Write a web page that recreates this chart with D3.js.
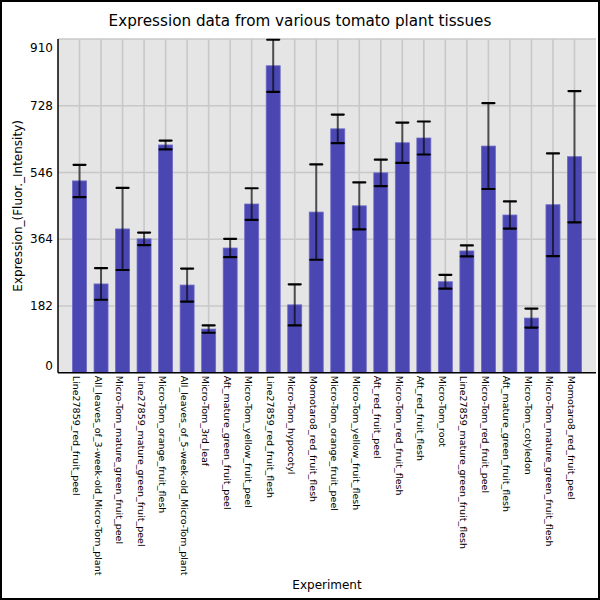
<!DOCTYPE html>
<html>
<head>
<meta charset="utf-8">
<script src="https://cdn.jsdelivr.net/npm/d3@7"></script>
<style>
  body { margin: 0; background: #fff; }
  text { font-family: "DejaVu Sans", sans-serif; fill: #000; }
</style>
</head>
<body>
<svg id="chart" width="600" height="600"></svg>
<script>
// tissues, in plotted order
var tissues = [
  "Line27859_red_fruit_peel",
  "All_leaves_of_3-week-old_Micro-Tom_plant",
  "Micro-Tom_mature_green_fruit_peel",
  "Line27859_mature_green_fruit_peel",
  "Micro-Tom_orange_fruit_flesh",
  "All_leaves_of_5-week-old_Micro-Tom_plant",
  "Micro-Tom_3rd_leaf",
  "Aft_mature_green_fruit_peel",
  "Micro-Tom_yellow_fruit_peel",
  "Line27859_red_fruit_flesh",
  "Micro-Tom_hypocotyl",
  "Momotaro8_red_fruit_flesh",
  "Micro-Tom_orange_fruit_peel",
  "Micro-Tom_yellow_fruit_flesh",
  "Aft_red_fruit_peel",
  "Micro-Tom_red_fruit_flesh",
  "Aft_red_fruit_flesh",
  "Micro-Tom_root",
  "Line27859_mature_green_fruit_flesh",
  "Micro-Tom_red_fruit_peel",
  "Aft_mature_green_fruit_flesh",
  "Micro-Tom_cotyledon",
  "Micro-Tom_mature_green_fruit_flesh",
  "Momotaro8_red_fruit_peel"
];
var expression = [523, 242, 392, 365, 621, 239, 119, 340, 460, 837, 185, 438,
                  665, 455, 545, 627, 640, 248, 332, 618, 430, 149, 458, 589];
var errors = [44, 43, 112, 17, 12, 45, 10, 25, 43, 71, 56, 130,
              39, 64, 36, 55, 45, 19, 15, 117, 37, 26, 140, 179];
var yTicks = [0, 182, 364, 546, 728, 910];

var svg = d3.select("#chart"),
    margin = {top: 39, left: 58, bottom: 227, right: 4},
    width = +svg.attr("width"),
    height = +svg.attr("height");

var data = tissues.map((t, i) => ({name: t, value: expression[i], err: errors[i]}));

// frame round the whole picture
svg.append("rect")
   .attr("x", 1).attr("y", 1)
   .attr("width", width - 2).attr("height", height - 2)
   .attr("fill", "#fff").attr("stroke", "#000").attr("stroke-width", 2);

var x = d3.scalePoint()
          .domain(tissues)
          .range([margin.left, width - margin.right])
          .padding(1);
var barW = x.step() * 0.65;

var y = d3.scaleLinear()
          .domain([0, 910])
          .range([height - margin.bottom - 0.3, margin.top]);

// plot background
svg.append("rect")
   .attr("x", margin.left).attr("y", margin.top)
   .attr("width", width - margin.right - margin.left)
   .attr("height", y(0) - margin.top)
   .attr("fill", "#e5e5e5");

// grid
svg.append("g").selectAll("line")
   .data(yTicks.slice(1)).enter().append("line")
   .attr("x1", margin.left).attr("x2", width - margin.right)
   .attr("y1", d => y(d)).attr("y2", d => y(d))
   .attr("stroke", "#c8c8c8").attr("stroke-width", 1.6);
svg.append("g").selectAll("line")
   .data(tissues).enter().append("line")
   .attr("x1", d => x(d)).attr("x2", d => x(d))
   .attr("y1", margin.top).attr("y2", y(0))
   .attr("stroke", "#c8c8c8").attr("stroke-width", 1.6);

// bars
svg.append("g").selectAll("rect")
   .data(data).enter().append("rect")
   .attr("x", d => x(d.name) - barW / 2)
   .attr("width", barW)
   .attr("y", d => y(d.value))
   .attr("height", d => y(0) - y(d.value))
   .attr("fill", "#4a47b3")
   .attr("stroke", "#6d6ac6").attr("stroke-width", 0.8);

// error bars
var eb = svg.append("g").selectAll("g")
   .data(data).enter().append("g");
eb.append("line")
  .attr("x1", d => x(d.name)).attr("x2", d => x(d.name))
  .attr("y1", d => y(d.value + d.err)).attr("y2", d => y(d.value - d.err))
  .attr("stroke", "#000").attr("stroke-opacity", 0.62).attr("stroke-width", 2);
eb.selectAll(".cap")
  .data(d => [d.value + d.err, d.value - d.err].map(v => ({name: d.name, v: v})))
  .enter().append("line")
  .attr("class", "cap")
  .attr("x1", d => x(d.name) - 6).attr("x2", d => x(d.name) + 6)
  .attr("y1", d => y(d.v)).attr("y2", d => y(d.v))
  .attr("stroke", "#000").attr("stroke-width", 2.2).attr("stroke-linecap", "round");

// axes lines
svg.append("line")
   .attr("x1", margin.left).attr("x2", margin.left)
   .attr("y1", margin.top).attr("y2", y(0))
   .attr("stroke", "#000").attr("stroke-width", 1.5);
svg.append("line")
   .attr("x1", margin.left).attr("x2", width - margin.right)
   .attr("y1", y(0)).attr("y2", y(0))
   .attr("stroke", "#000").attr("stroke-width", 1.5);

// y tick labels, end ones pulled inside the plot
svg.append("g").selectAll("text")
   .data(yTicks).enter().append("text")
   .attr("x", margin.left - 5)
   .attr("y", d => y(d) + (d === 0 ? -7 : d === 910 ? 9 : 0))
   .attr("dy", "0.35em")
   .attr("text-anchor", "end")
   .attr("font-size", 12)
   .text(d => d);

// x labels, rotated
svg.append("g").selectAll("text")
   .data(tissues).enter().append("text")
   .attr("transform", d => `translate(${x(d) - 6.5},${y(0) + 3}) rotate(90)`)
   .attr("font-size", 9.5)
   .text(d => d);

// titles
svg.append("text")
   .attr("x", width / 2).attr("y", 26)
   .attr("text-anchor", "middle")
   .attr("font-size", 15.2)
   .text("Expression data from various tomato plant tissues");
svg.append("text")
   .attr("x", (margin.left + width - margin.right) / 2).attr("y", 589)
   .attr("text-anchor", "middle")
   .attr("font-size", 12)
   .text("Experiment");
svg.append("text")
   .attr("transform", `translate(22,${(margin.top + y(0)) / 2}) rotate(-90)`)
   .attr("text-anchor", "middle")
   .attr("font-size", 12)
   .text("Expression_(Fluor._Intensity)");
</script>
</body>
</html>
